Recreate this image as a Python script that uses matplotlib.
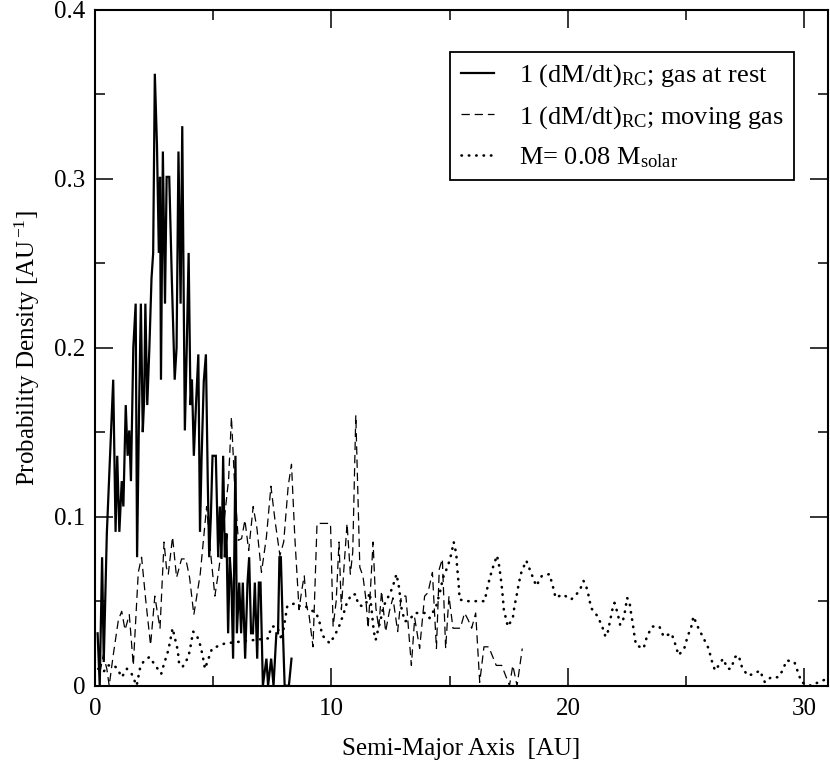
import matplotlib
matplotlib.use("Agg")
import matplotlib.pyplot as plt
from matplotlib.ticker import MultipleLocator

plt.rcParams['font.family'] = ['Liberation Serif', 'DejaVu Serif']
plt.rcParams['mathtext.fontset'] = 'custom'
plt.rcParams['mathtext.rm'] = 'Liberation Serif'
plt.rcParams['mathtext.it'] = 'Liberation Serif:italic'
plt.rcParams['lines.scale_dashes'] = False

# --- data: 1 (dM/dt)_RC; gas at rest ---
rest_x = [0.11, 0.2, 0.3, 0.37, 0.5, 0.77, 0.87, 0.94, 1.03, 1.13, 1.2, 1.3, 1.38, 1.45, 1.52,
          1.62, 1.72, 1.78, 1.86, 1.94, 2.02, 2.08, 2.13, 2.21, 2.3, 2.39, 2.46, 2.53, 2.62, 2.7,
          2.75, 2.79, 2.87, 2.96, 3.03, 3.14, 3.25, 3.37, 3.45, 3.53, 3.62, 3.69, 3.8, 3.88, 3.96,
          4.04, 4.1, 4.18, 4.27, 4.37, 4.44, 4.51, 4.6, 4.69, 4.77, 4.83, 4.9, 4.97, 5.11, 5.21,
          5.28, 5.35, 5.42, 5.49, 5.56, 5.63, 5.7, 5.77, 5.84, 5.94, 6.0, 6.1, 6.18, 6.25, 6.35,
          6.45, 6.52, 6.6, 6.68, 6.76, 6.86, 6.93, 7.0, 7.1, 7.25, 7.32, 7.45, 7.55, 7.67, 7.74,
          7.8, 7.86, 7.95, 8.02, 8.1, 8.2, 8.31]
rest_y = [0.031, 0.0, 0.076, 0.014, 0.09, 0.181, 0.091, 0.136, 0.091, 0.121, 0.106, 0.166, 0.136, 0.151, 0.121,
          0.2, 0.226, 0.076, 0.16, 0.226, 0.15, 0.17, 0.226, 0.166, 0.2, 0.241, 0.256, 0.362, 0.32, 0.256,
          0.301, 0.181, 0.316, 0.226, 0.301, 0.301, 0.24, 0.181, 0.2, 0.316, 0.226, 0.331, 0.151, 0.2, 0.256,
          0.166, 0.181, 0.136, 0.166, 0.196, 0.091, 0.136, 0.18, 0.196, 0.12, 0.076, 0.1, 0.136, 0.136, 0.076,
          0.106, 0.075, 0.136, 0.076, 0.09, 0.031, 0.076, 0.061, 0.016, 0.136, 0.031, 0.061, 0.031, 0.061, 0.016,
          0.061, 0.076, 0.031, 0.031, 0.061, 0.016, 0.061, 0.061, 0.0, 0.016, 0.0, 0.016, 0.0, 0.031, 0.031,
          0.076, 0.076, 0.031, 0.0, 0.0, 0.0, 0.016]

# --- data: 1 (dM/dt)_RC; moving gas ---
move_x = [0.21, 0.35, 0.5, 0.6, 0.77, 0.99, 1.13, 1.27, 1.45, 1.62, 1.83, 1.97, 2.15, 2.35, 2.53,
          2.62, 2.75, 2.92, 3.02, 3.1, 3.28, 3.45, 3.66, 3.84, 4.0, 4.18, 4.45, 4.72, 4.9, 5.07,
          5.25, 5.45, 5.65, 5.77, 5.9, 6.06, 6.2, 6.34, 6.5, 6.69, 6.85, 7.04, 7.25, 7.44, 7.62,
          7.82, 7.98, 8.17, 8.31, 8.45, 8.63, 8.75, 8.85, 8.95, 9.05, 9.22, 9.39, 9.96, 10.07, 10.2,
          10.32, 10.42, 10.52, 10.66, 10.8, 10.9, 11.03, 11.2, 11.33, 11.45, 11.55, 11.65, 11.76, 11.88, 12.0,
          12.12, 12.29, 12.45, 12.6, 12.8, 12.95, 13.15, 13.38, 13.52, 13.73, 13.94, 14.08, 14.27, 14.44, 14.56,
          14.69, 14.83, 14.97, 15.14, 15.45, 15.63, 15.78, 15.93, 16.1, 16.27, 16.45, 16.65, 16.97, 17.2, 17.53,
          17.67, 17.85, 18.07]
move_y = [0.008, 0.018, 0.01, 0.0, 0.018, 0.039, 0.044, 0.033, 0.042, 0.012, 0.067, 0.076, 0.05, 0.024, 0.053,
          0.045, 0.034, 0.085, 0.07, 0.066, 0.088, 0.064, 0.075, 0.075, 0.064, 0.042, 0.066, 0.106, 0.077, 0.053,
          0.07, 0.096, 0.122, 0.159, 0.12, 0.086, 0.087, 0.098, 0.08, 0.106, 0.093, 0.067, 0.088, 0.118, 0.097,
          0.077, 0.085, 0.118, 0.131, 0.088, 0.045, 0.057, 0.065, 0.047, 0.042, 0.023, 0.096, 0.096, 0.035, 0.05,
          0.085, 0.045, 0.068, 0.096, 0.066, 0.079, 0.16, 0.07, 0.065, 0.052, 0.034, 0.057, 0.085, 0.046, 0.034,
          0.056, 0.032, 0.044, 0.052, 0.032, 0.053, 0.053, 0.012, 0.04, 0.022, 0.053, 0.055, 0.067, 0.022, 0.069,
          0.075, 0.022, 0.053, 0.034, 0.034, 0.043, 0.039, 0.034, 0.043, 0.002, 0.023, 0.023, 0.012, 0.012, 0.0,
          0.012, 0.0, 0.022]

# --- data: M = 0.08 M_solar ---
m08_x = [0.14, 0.35, 0.56, 0.8, 0.95, 1.13, 1.35, 1.55, 1.76, 1.9, 2.04, 2.3, 2.55, 2.8, 2.9,
         3.1, 3.2, 3.28, 3.38, 3.5, 3.55, 3.7, 3.95, 4.05, 4.15, 4.3, 4.45, 4.55, 4.65, 4.8,
         4.95, 5.49, 7.32, 7.46, 7.7, 7.9, 8.13, 8.5, 8.66, 8.9, 9.1, 9.36, 9.53, 9.6, 9.93,
         10.15, 10.32, 10.5, 10.63, 10.84, 11.03, 11.13, 11.31, 11.45, 11.62, 11.72, 11.79, 11.87, 11.97, 12.08,
         12.2, 12.35, 12.58, 12.75, 12.86, 12.96, 13.1, 13.3, 13.52, 13.73, 13.94, 14.15, 14.43, 14.6, 14.72,
         14.93, 15.07, 15.17, 15.28, 15.31, 15.35, 15.39, 15.42, 15.7, 15.99, 16.24, 16.48, 16.58, 16.7, 16.83,
         17.0, 17.08, 17.15, 17.2, 17.25, 17.29, 17.46, 17.67, 17.74, 17.84, 17.93, 18.03, 18.24, 18.38, 18.66,
         18.9, 19.22, 19.36, 19.48, 19.78, 20.14, 20.49, 20.66, 20.77, 20.88, 20.98, 21.26, 21.45, 21.59, 21.69,
         21.79, 21.88, 21.97, 22.1, 22.21, 22.32, 22.43, 22.5, 22.6, 22.67, 22.74, 22.81, 22.88, 23.2, 23.34,
         23.56, 23.87, 24.05, 24.38, 24.53, 24.68, 24.92, 25.06, 25.22, 25.31, 25.52, 25.74, 25.95, 26.08, 26.22,
         26.38, 26.56, 26.76, 26.9, 27.07, 27.22, 27.36, 27.6, 27.88, 28.12, 28.33, 28.59, 28.9, 29.08, 29.25,
         29.58, 29.73, 29.88, 30.28, 30.74, 31.0]
m08_y = [0.01, 0.008, 0.012, 0.012, 0.01, 0.005, 0.01, 0.007, 0.0, 0.01, 0.014, 0.017, 0.012, 0.007, 0.012,
         0.021, 0.028, 0.034, 0.028, 0.021, 0.014, 0.011, 0.017, 0.024, 0.032, 0.03, 0.024, 0.018, 0.01, 0.016,
         0.022, 0.025, 0.028, 0.035, 0.035, 0.027, 0.047, 0.049, 0.047, 0.047, 0.045, 0.043, 0.036, 0.03, 0.025,
         0.03, 0.035, 0.042, 0.048, 0.054, 0.054, 0.048, 0.047, 0.048, 0.055, 0.042, 0.032, 0.027, 0.033, 0.039,
         0.047, 0.051, 0.058, 0.066, 0.058, 0.046, 0.038, 0.039, 0.043, 0.043, 0.043, 0.04, 0.047, 0.056, 0.064,
         0.071, 0.078, 0.085, 0.078, 0.071, 0.065, 0.058, 0.051, 0.05, 0.05, 0.05, 0.05, 0.057, 0.064, 0.07,
         0.077, 0.072, 0.065, 0.059, 0.052, 0.045, 0.035, 0.04, 0.047, 0.054, 0.061, 0.067, 0.074, 0.069, 0.059,
         0.065, 0.066, 0.059, 0.052, 0.054, 0.051, 0.056, 0.062, 0.059, 0.053, 0.046, 0.041, 0.035, 0.029, 0.032,
         0.039, 0.045, 0.049, 0.043, 0.036, 0.038, 0.045, 0.052, 0.05, 0.043, 0.037, 0.03, 0.024, 0.022, 0.029,
         0.035, 0.035, 0.029, 0.031, 0.025, 0.018, 0.022, 0.029, 0.035, 0.041, 0.034, 0.028, 0.022, 0.015, 0.009,
         0.012, 0.016, 0.01, 0.01, 0.017, 0.018, 0.011, 0.006, 0.007, 0.009, 0.002, 0.005, 0.005, 0.009, 0.015,
         0.014, 0.008, 0.002, 0.0, 0.003, 0.004]

labels = [r"1 (dM/dt)$_\mathrm{RC}$; gas at rest",
          r"1 (dM/dt)$_\mathrm{RC}$; moving gas",
          r"M= 0.08 M$_\mathrm{solar}$"]
x_ticks = [0, 10, 20, 30]
y_ticks = [0, 0.1, 0.2, 0.3, 0.4]
y_ticklabels = ["0", "0.1", "0.2", "0.3", "0.4"]

fig = plt.figure(figsize=(8.3, 7.74), dpi=100)
ax = fig.add_axes([95/830, 1 - 685.7/774, (828 - 95)/830, (685.7 - 9.5)/774])

ax.plot(rest_x, rest_y, color='black', lw=1.6, solid_joinstyle='miter', label=labels[0])
ax.plot(move_x, move_y, color='black', lw=0.9, linestyle=(0, (6, 3.5)), label=labels[1])
ax.plot(m08_x, m08_y, color='black', lw=1.9, linestyle=(0, (0.3, 5.0)),
        dash_capstyle='round', label=labels[2])

ax.set_xlim(0, 31)
ax.set_ylim(0, 0.4)
ax.set_xticks(x_ticks)
ax.set_yticks(y_ticks)
ax.set_yticklabels(y_ticklabels)
ax.xaxis.set_minor_locator(MultipleLocator(5))
ax.yaxis.set_minor_locator(MultipleLocator(0.05))
ax.tick_params(which='both', direction='in', top=True, right=True, width=1.1, labelsize=18)
ax.tick_params(which='major', length=13)
ax.tick_params(which='minor', length=7.5)
ax.tick_params(axis='x', pad=9)
ax.tick_params(axis='y', pad=7)
for s in ax.spines.values():
    s.set_linewidth(1.5)

ax.set_xlabel("Semi-Major Axis  [AU]", fontsize=18, labelpad=13)
ax.set_ylabel(r"Probability Density [AU$^{\,\mathrm{-1}}$]", fontsize=18, labelpad=9)

leg = ax.legend(loc='upper left', bbox_to_anchor=(450/830, 1 - 52/774),
                bbox_transform=fig.transFigure, borderaxespad=0, fontsize=19,
                frameon=True, fancybox=False, edgecolor='black', framealpha=1,
                handlelength=1.25, handletextpad=0.95, labelspacing=0.55, borderpad=0.4)
leg.get_frame().set_linewidth(1.3)

fig.savefig("out.png", dpi=100)
